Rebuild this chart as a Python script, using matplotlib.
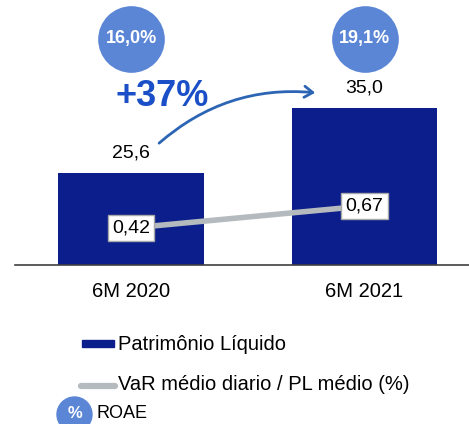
import matplotlib.pyplot as plt
from matplotlib.patches import Rectangle, Circle, FancyArrowPatch
import matplotlib.transforms as mtransforms

plt.rcParams['font.family'] = ['Liberation Sans', 'DejaVu Sans']

periods = ["6M 2020", "6M 2021"]
patrimonio = [25.6, 35.0]
var_pl = [0.42, 0.67]
roae = [16.0, 19.1]

bar_color = '#0c1e8b'
line_color = '#b4babd'
circle_color = '#5b86d6'


def br(v, nd):
    return f"{v:.{nd}f}".replace(".", ",")


fig = plt.figure(figsize=(4.69, 4.24), dpi=100)
ax = fig.add_axes([15 / 469, 159 / 424, 454 / 469, 265 / 424])
x = list(range(len(periods)))

ax.bar(x, patrimonio, width=0.625, color=bar_color, zorder=2)
ax.set_ylim(12.3, 50.65)
ax.set_xlim(-0.497, 1.4475)
for s in ['top', 'right', 'left']:
    ax.spines[s].set_visible(False)
ax.spines['bottom'].set_color('#404040')
ax.spines['bottom'].set_linewidth(1.2)
ax.set_yticks([])
ax.set_xticks(x)
ax.set_xticklabels(periods, fontsize=14.5)
ax.tick_params(axis='x', length=0, pad=12)

for xi, v in zip(x, patrimonio):
    ax.annotate(br(v, 1), (xi, v), xytext=(0, 20), textcoords='offset pixels',
                ha='center', va='center', fontsize=14)

ax2 = ax.twinx()
ax2.set_ylim(0, 3.01)
ax2.axis('off')
ax2.plot(x, var_pl, color=line_color, lw=4, zorder=3)
for xi, v in zip(x, var_pl):
    ax2.text(xi, v, br(v, 2), ha='center', va='center', fontsize=14, zorder=4,
             bbox=dict(boxstyle='square,pad=0.22', fc='white', ec='#a8a8a8', lw=1))

# ROAE circles above bars
trans = mtransforms.blended_transform_factory(ax.transData, ax.transAxes)
for xi, r in zip(x, roae):
    ax2.plot(xi, 0.853, 'o', ms=48, color=circle_color, mec='none',
             transform=trans, clip_on=False)
    ax2.text(xi, 0.853, br(r, 1) + "%", transform=trans, ha='center', va='center',
             color='white', fontsize=13, fontweight='bold')

# overlay in pixel coords for arrow, growth label and legend
ov = fig.add_axes([0, 0, 1, 1])
ov.set_xlim(0, 469)
ov.set_ylim(424, 0)
ov.axis('off')
ov.patch.set_alpha(0)

growth = round((patrimonio[1] / patrimonio[0] - 1) * 100)
ov.text(162, 97, f"+{growth}%", ha='center', va='center', fontsize=26,
        fontweight='bold', color='#1a4fc8')
arrow = FancyArrowPatch((157, 145), (318, 93), connectionstyle='arc3,rad=-0.22',
                        arrowstyle='->,head_length=6,head_width=4',
                        color='#2d65b5', lw=2)
ov.add_patch(arrow)

ov.add_patch(Rectangle((82, 340), 32, 7, color=bar_color))
ov.text(118, 344, "Patrimônio Líquido", va='center', fontsize=14.5)
ov.plot([81, 115], [386, 386], color=line_color, lw=4.5, solid_capstyle='round')
ov.text(118, 385, "VaR médio diario / PL médio (%)", va='center', fontsize=14.5)
ov.add_patch(Circle((74.5, 414.5), 17.5, color=circle_color))
ov.text(74.5, 413, "%", ha='center', va='center', color='white', fontsize=12,
        fontweight='bold')
ov.text(97, 413, "ROAE", va='center', fontsize=13)

fig.savefig('out.png', dpi=100)
